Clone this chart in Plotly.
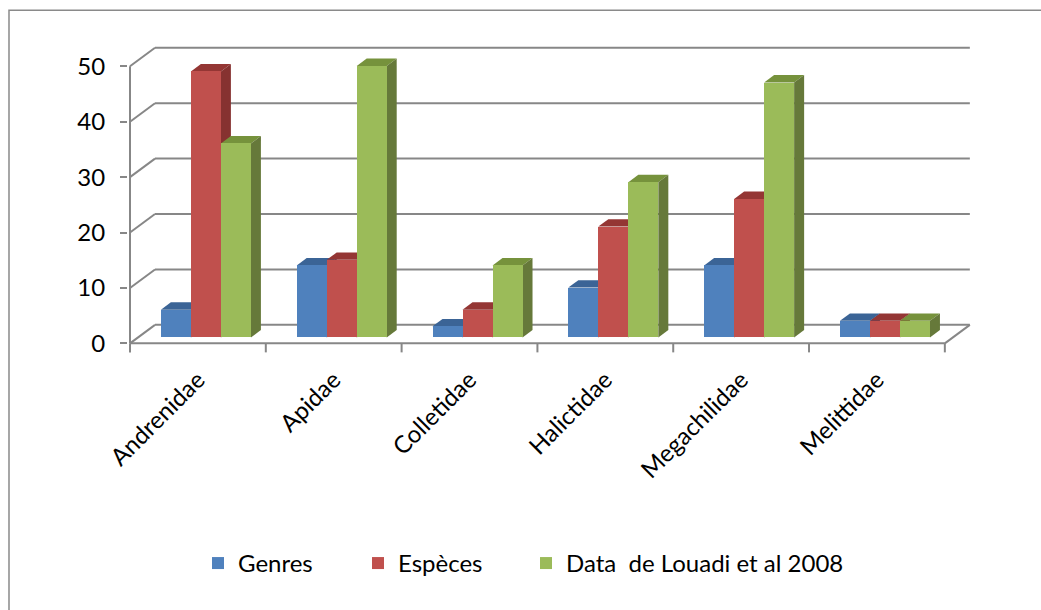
import plotly.graph_objects as go

# ---------------- data ----------------
categories = ["Andrenidae", "Apidae", "Colletidae", "Halictidae", "Megachilidae", "Melittidae"]
genres = [5, 13, 2, 9, 13, 3]
especes = [48, 14, 5, 20, 25, 3]
louadi = [35, 49, 13, 28, 46, 3]
series_names = ["Genres", "Espèces", "Data  de Louadi et al 2008"]
y_ticks = [0, 10, 20, 30, 40, 50]

# ---------------- styling / geometry ----------------
front_cols = ["#4F81BD", "#C0504D", "#9BBB59"]
top_cols = ["#3B6496", "#943634", "#76923C"]
side_cols = ["#2F5080", "#863230", "#66793A"]
grid_col = "#878787"
FONT = "Lato"

W, H = 1041, 610
PXX = 135.8   # px per category unit
PXY = 5.54    # px per value unit
X0PX, Y0PX = 130, 343  # pixel of data point (-0.5, 0)

# depth of the box (back wall offset) in data units
DX = 25 / PXX
DY = 18.5 / PXY
# bars sit at fraction F0 of the depth, with depth BD
F0 = 0.32
BDX = 10 / PXX
BDY = 7.4 / PXY
BW = 30 / PXX   # bar width

xr = [-0.5 - 2 / PXX, 5.70]
yr = [-3.0, 54.2]
ml = X0PX + (xr[0] + 0.5) * PXX
pw = (xr[1] - xr[0]) * PXX
mr = W - ml - pw
mt = Y0PX - yr[1] * PXY
mb = H - (Y0PX - yr[0] * PXY)
ph = H - mt - mb

shapes = []
gl = dict(color=grid_col, width=2)
n = len(categories)
# back wall gridlines + diagonals on the left side
for v in y_ticks:
    shapes.append(dict(type="line", xref="x", yref="y", layer="below",
                       x0=-0.5 + DX, x1=n - 0.5 + DX, y0=v + DY, y1=v + DY, line=gl))
    shapes.append(dict(type="line", xref="x", yref="y", layer="below",
                       x0=-0.5, x1=-0.5 + DX, y0=v, y1=v + DY, line=gl))
# floor front edge and right diagonal
shapes.append(dict(type="line", xref="x", yref="y", layer="below",
                   x0=-0.5, x1=n - 0.5, y0=0, y1=0, line=gl))
shapes.append(dict(type="line", xref="x", yref="y", layer="below",
                   x0=n - 0.5, x1=n - 0.5 + DX, y0=0, y1=DY, line=gl))
# front vertical axis
shapes.append(dict(type="line", xref="x", yref="y", layer="below",
                   x0=-0.5, x1=-0.5, y0=0, y1=y_ticks[-1], line=gl))
# category tick marks
for i in range(n + 1):
    shapes.append(dict(type="line", xref="x", yref="y", layer="below",
                       x0=-0.5 + i, x1=-0.5 + i, y0=0, y1=-9 / PXY, line=gl))

# bars: front faces via go.Bar, top/side faces as shapes below the bars
base = F0 * DY
offx = F0 * DX
all_vals = [genres, especes, louadi]
legend_ids = ["legend", "legend2", "legend3"]
legend_px = [198, 358, 526]   # left pixel of each legend entry
fig = go.Figure()
for j, vals in enumerate(all_vals):
    off = offx + (j - 1.5) * BW
    fig.add_trace(go.Bar(
        x=list(range(n)), y=vals, base=base, width=BW, offset=off,
        name=series_names[j], legend=legend_ids[j],
        marker=dict(color=front_cols[j], line=dict(width=0)),
    ))
    for i, v in enumerate(vals):
        xl = i + off
        xrr = xl + BW
        top = base + v
        # top face
        path = (f"M{xl},{top} L{xl + BDX},{top + BDY} L{xrr + BDX},{top + BDY} "
                f"L{xrr},{top} Z")
        shapes.append(dict(type="path", xref="x", yref="y", layer="below", path=path,
                           fillcolor=top_cols[j], line=dict(width=0)))
        # side face (covered by next bar's front where hidden)
        path = (f"M{xrr},{base} L{xrr},{top} L{xrr + BDX},{top + BDY} "
                f"L{xrr + BDX},{base + BDY} Z")
        shapes.append(dict(type="path", xref="x", yref="y", layer="below", path=path,
                           fillcolor=side_cols[j], line=dict(width=0)))

# outer chart border (left and top visible)
shapes.append(dict(type="rect", xref="paper", yref="paper",
                   x0=(9 - ml) / pw, x1=(W + 5 - ml) / pw,
                   y0=(H - mb - (H + 5)) / ph, y1=(H - mb - 10) / ph,
                   line=dict(color="#8A8A8A", width=1.5), layer="below"))

legend_common = dict(orientation="h", xanchor="left",
                     y=(H - mb - 563) / ph, yanchor="middle",
                     font=dict(size=24, family=FONT, color="black"),
                     bgcolor="rgba(0,0,0,0)")
legends = {}
for lid, lx in zip(legend_ids, legend_px):
    legends[lid] = dict(legend_common, x=(lx - ml) / pw)

fig.update_layout(
    width=W, height=H, autosize=False,
    margin=dict(l=ml, r=mr, t=mt, b=mb, pad=0),
    paper_bgcolor="white", plot_bgcolor="white",
    barmode="overlay", bargap=0,
    font=dict(family=FONT, color="black"),
    shapes=shapes,
    showlegend=True,
    xaxis=dict(range=xr, showgrid=False, zeroline=False, showline=False,
               tickvals=[i + 0.0 for i in range(n)], ticktext=categories,
               tickangle=-45, ticks="", ticklabelstandoff=0,
               tickfont=dict(size=24, family=FONT, color="black"),
               fixedrange=True),
    yaxis=dict(range=yr, showgrid=False, zeroline=False, showline=False,
               tickvals=y_ticks, ticks="outside", ticklen=7, tickwidth=2,
               tickcolor=grid_col, ticklabelstandoff=10,
               tickfont=dict(size=24, family=FONT, color="black"), fixedrange=True),
    **legends,
)

fig.write_html("out.html")
